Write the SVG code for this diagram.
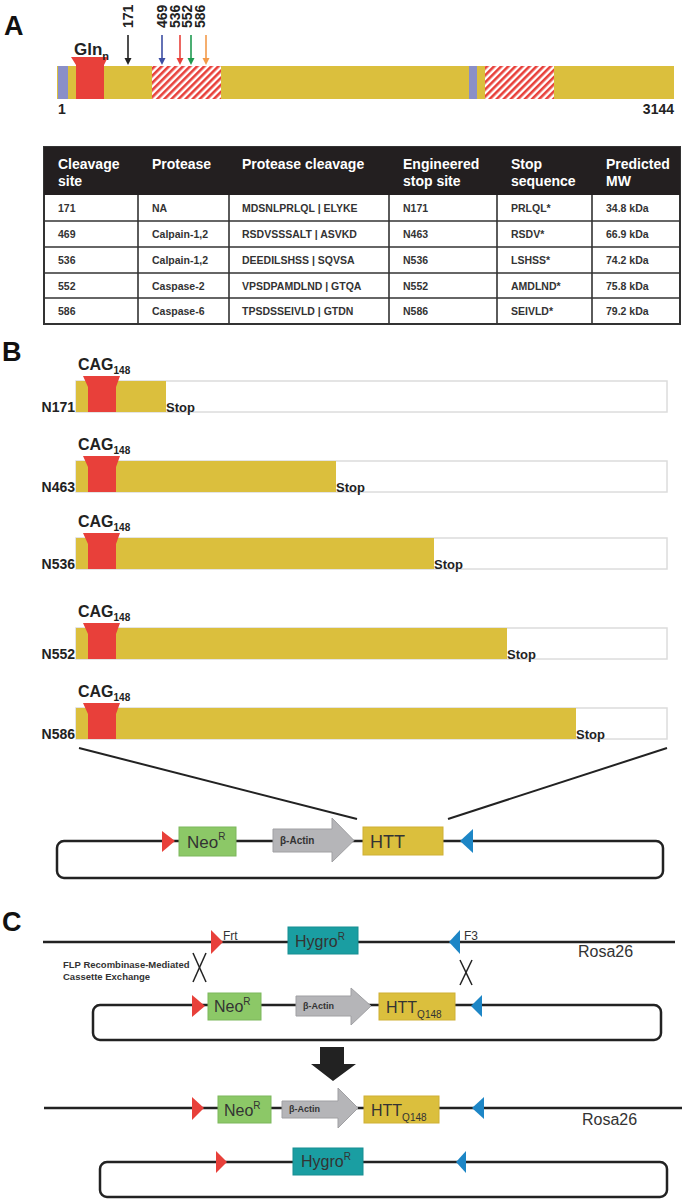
<svg xmlns="http://www.w3.org/2000/svg" width="693" height="1199" viewBox="0 0 693 1199">
<defs>
<style>
text{font-family:"Liberation Sans",Arial,sans-serif;}
.pl{font-size:27px;font-weight:bold;fill:#111;}
.hd{font-size:14px;font-weight:bold;fill:#fff;}
.td{font-size:10.5px;font-weight:bold;fill:#333;}
.yel{fill:#dbbf3d;}
.red{fill:#e8403a;}
.cag{font-size:16px;font-weight:bold;fill:#222;}
.sub{font-size:10px;font-weight:bold;fill:#222;}
.nl{font-size:14px;font-weight:bold;fill:#222;}
.stop{font-size:13px;font-weight:bold;fill:#222;}
.box{fill:none;stroke:#dcdcdc;stroke-width:1.5;}
.bb{fill:none;stroke:#222;stroke-width:2.5;}
.ln{stroke:#222;stroke-width:2.5;fill:none;}
.neo{fill:#8cc867;stroke:#7db75c;stroke-width:1;}
.htt{fill:#dbbf3d;stroke:#cfb035;stroke-width:1;}
.hyg{fill:#1a9ea2;stroke:#178e92;stroke-width:1;}
.act{fill:#b5b5b8;stroke:#a0a0a3;stroke-width:1;}
.lt{font-size:17px;fill:#333;}
.sup{font-size:10px;fill:#333;}
.ba{font-size:10px;font-weight:bold;fill:#333;}
.tr{fill:#e8403a;}
.tb{fill:#1d86c6;}
.sm{font-size:12px;fill:#333;}
.rosa{font-size:16px;fill:#333;}
.flp{font-size:9.5px;font-weight:bold;fill:#333;}
.num{font-size:14px;font-weight:bold;fill:#222;}
</style>
<pattern id="hatch" width="5" height="5" patternUnits="userSpaceOnUse" patternTransform="rotate(45)">
<rect width="5" height="5" fill="#fff"/>
<rect width="2.6" height="5" fill="#e8403a"/>
</pattern>
</defs>
<rect width="693" height="1199" fill="#fff"/>

<!-- Panel A -->
<g id="panelA">
<text class="pl" x="4" y="35">A</text>
<g id="htt-protein">
<rect class="yel" x="57" y="66" width="617" height="33"/>
<rect x="58" y="66" width="10" height="33" fill="#8a8fc8"/>
<rect x="469" y="66" width="8" height="33" fill="#8a8fc8"/>
<rect x="152" y="66" width="69" height="33" fill="url(#hatch)"/>
<rect x="485" y="66" width="69" height="33" fill="url(#hatch)"/>
<polygon class="red" points="71,57 108,57 104,65 104,99 76,99 76,65"/>
<text x="74" y="55" style="font-size:17px;font-weight:bold;fill:#222">Gln<tspan dy="5" style="font-size:11px">n</tspan></text>
<text class="num" x="58" y="114">1</text>
<text class="num" x="674" y="114" text-anchor="end">3144</text>
</g>
<g id="site-labels">
<text class="num" transform="translate(133,28) rotate(-90)">171</text>
<text class="num" transform="translate(167,28) rotate(-90)">469</text>
<text class="num" transform="translate(180,28) rotate(-90)">536</text>
<text class="num" transform="translate(192,28) rotate(-90)">552</text>
<text class="num" transform="translate(205,28) rotate(-90)">586</text>
</g>
</g>

<g id="connectors">
<g id="site-arrows" stroke-width="1.6">
<line x1="128" y1="35" x2="128" y2="59" stroke="#222"/><polygon points="124.5,58 131.5,58 128,65" fill="#222"/>
<line x1="162" y1="35" x2="162" y2="59" stroke="#3d4ea3"/><polygon points="158.5,58 165.5,58 162,65" fill="#3d4ea3"/>
<line x1="180" y1="35" x2="180" y2="59" stroke="#e8403a"/><polygon points="176.5,58 183.5,58 180,65" fill="#e8403a"/>
<line x1="191" y1="35" x2="191" y2="59" stroke="#1f9a50"/><polygon points="187.5,58 194.5,58 191,65" fill="#1f9a50"/>
<line x1="206" y1="35" x2="206" y2="59" stroke="#f39a4a"/><polygon points="202.5,58 209.5,58 206,65" fill="#f39a4a"/>
</g>
<line x1="79" y1="748" x2="357" y2="819" stroke="#222" stroke-width="2"/>
<line x1="667" y1="748" x2="448" y2="819" stroke="#222" stroke-width="2"/>
<g id="crossovers" stroke="#222" stroke-width="1.5">
<line x1="193" y1="953" x2="206" y2="982"/><line x1="206" y1="953" x2="193" y2="982"/>
<line x1="460" y1="960" x2="472" y2="985"/><line x1="472" y1="960" x2="460" y2="985"/>
</g>
<polygon id="down-arrow" points="320,1047 344,1047 344,1064 356,1064 333,1081 311,1064 320,1064" fill="#222"/>
</g>

<!-- Table -->
<g id="table">
<rect x="44" y="147" width="636" height="177" fill="#fff" stroke="#333" stroke-width="2"/>
<rect x="44" y="147" width="636" height="48" fill="#231f20"/>
<g stroke="#333" stroke-width="1.6">
<line x1="44" y1="221" x2="680" y2="221"/>
<line x1="44" y1="247" x2="680" y2="247"/>
<line x1="44" y1="273" x2="680" y2="273"/>
<line x1="44" y1="298" x2="680" y2="298"/>
<line x1="138" y1="195" x2="138" y2="324"/>
<line x1="229" y1="195" x2="229" y2="324"/>
<line x1="389" y1="195" x2="389" y2="324"/>
<line x1="497" y1="195" x2="497" y2="324"/>
<line x1="592" y1="195" x2="592" y2="324"/>
</g>
<text class="hd" x="58" y="169">Cleavage</text><text class="hd" x="58" y="186">site</text>
<text class="hd" x="152" y="169">Protease</text>
<text class="hd" x="242" y="169">Protease cleavage</text>
<text class="hd" x="403" y="169">Engineered</text><text class="hd" x="403" y="186">stop site</text>
<text class="hd" x="511" y="169">Stop</text><text class="hd" x="511" y="186">sequence</text>
<text class="hd" x="606" y="169">Predicted</text><text class="hd" x="606" y="186">MW</text>
<g>
<text class="td" x="58" y="212">171</text><text class="td" x="152" y="212">NA</text><text class="td" x="242" y="212">MDSNLPRLQL | ELYKE</text><text class="td" x="403" y="212">N171</text><text class="td" x="511" y="212">PRLQL*</text><text class="td" x="606" y="212">34.8 kDa</text>
<text class="td" x="58" y="238">469</text><text class="td" x="152" y="238">Calpain-1,2</text><text class="td" x="242" y="238">RSDVSSSALT | ASVKD</text><text class="td" x="403" y="238">N463</text><text class="td" x="511" y="238">RSDV*</text><text class="td" x="606" y="238">66.9 kDa</text>
<text class="td" x="58" y="264">536</text><text class="td" x="152" y="264">Calpain-1,2</text><text class="td" x="242" y="264">DEEDILSHSS | SQVSA</text><text class="td" x="403" y="264">N536</text><text class="td" x="511" y="264">LSHSS*</text><text class="td" x="606" y="264">74.2 kDa</text>
<text class="td" x="58" y="289.5">552</text><text class="td" x="152" y="289.5">Caspase-2</text><text class="td" x="242" y="289.5">VPSDPAMDLND | GTQA</text><text class="td" x="403" y="289.5">N552</text><text class="td" x="511" y="289.5">AMDLND*</text><text class="td" x="606" y="289.5">75.8 kDa</text>
<text class="td" x="58" y="315">586</text><text class="td" x="152" y="315">Caspase-6</text><text class="td" x="242" y="315">TPSDSSEIVLD | GTDN</text><text class="td" x="403" y="315">N586</text><text class="td" x="511" y="315">SEIVLD*</text><text class="td" x="606" y="315">79.2 kDa</text>
</g>
</g>

<!-- Panel B -->
<text class="pl" x="2" y="361">B</text>
<g id="N171">
<rect class="box" x="76" y="381" width="591" height="31"/>
<rect class="yel" x="76" y="381" width="90" height="31"/>
<polygon class="red" points="83,376 120,376 116,387 116,412 88,412 88,387"/>
<text class="cag" x="78" y="370">CAG<tspan class="sub" dy="4">148</tspan></text>
<text class="nl" x="75" y="412" text-anchor="end">N171</text>
<text class="stop" x="166" y="412">Stop</text>
</g>
<g id="N463">
<rect class="box" x="76" y="461" width="591" height="31"/>
<rect class="yel" x="76" y="461" width="260" height="31"/>
<polygon class="red" points="83,456 120,456 116,467 116,492 88,492 88,467"/>
<text class="cag" x="78" y="450">CAG<tspan class="sub" dy="4">148</tspan></text>
<text class="nl" x="75" y="492" text-anchor="end">N463</text>
<text class="stop" x="336" y="492">Stop</text>
</g>
<g id="N536">
<rect class="box" x="76" y="538" width="591" height="31"/>
<rect class="yel" x="76" y="538" width="358" height="31"/>
<polygon class="red" points="83,533 120,533 116,544 116,569 88,569 88,544"/>
<text class="cag" x="78" y="527">CAG<tspan class="sub" dy="4">148</tspan></text>
<text class="nl" x="75" y="569" text-anchor="end">N536</text>
<text class="stop" x="434" y="569">Stop</text>
</g>
<g id="N552">
<rect class="box" x="76" y="628" width="591" height="31"/>
<rect class="yel" x="76" y="628" width="431" height="31"/>
<polygon class="red" points="83,623 120,623 116,634 116,659 88,659 88,634"/>
<text class="cag" x="78" y="617">CAG<tspan class="sub" dy="4">148</tspan></text>
<text class="nl" x="75" y="659" text-anchor="end">N552</text>
<text class="stop" x="507" y="659">Stop</text>
</g>
<g id="N586">
<rect class="box" x="76" y="708" width="591" height="31"/>
<rect class="yel" x="76" y="708" width="500" height="31"/>
<polygon class="red" points="83,703 120,703 116,714 116,739 88,739 88,714"/>
<text class="cag" x="78" y="697">CAG<tspan class="sub" dy="4">148</tspan></text>
<text class="nl" x="75" y="739" text-anchor="end">N586</text>
<text class="stop" x="576" y="739">Stop</text>
</g>

<g id="cassetteB">
<rect class="bb" x="57" y="841" width="606" height="37" rx="7"/>
<polygon class="tr" points="162,831 175,841 162,852"/>
<rect class="neo" x="179" y="827" width="57" height="29"/>
<text class="lt" x="187" y="848">Neo<tspan class="sup" dy="-8">R</tspan></text>
<path class="act" d="M273 829 H332 V818 L354 840.5 L332 862 V852 H273 Z"/>
<text class="ba" x="280" y="844">β-Actin</text>
<rect class="htt" x="363" y="827" width="80" height="28"/>
<text class="lt" x="370" y="848" style="font-size:18px">HTT</text>
<polygon class="tb" points="473,829 460,841 473,853"/>
</g>

<!-- Panel C -->
<text class="pl" x="2" y="931">C</text>
<g id="rosa26-top">
<line class="ln" x1="43" y1="942" x2="675" y2="942"/>
<polygon class="tr" points="211,930 223,942 211,954"/>
<text class="sm" x="223" y="940">Frt</text>
<rect class="hyg" x="288" y="927" width="70" height="27"/>
<text class="rosa" x="295" y="947">Hygro<tspan class="sup" dy="-7">R</tspan></text>
<polygon class="tb" points="460,930 449,942 460,954"/>
<text class="sm" x="464" y="940">F3</text>
<text class="rosa" x="578" y="957">Rosa26</text>
</g>
<g id="flp-label">
<text class="flp" x="63" y="968">FLP Recombinase-Mediated</text>
<text class="flp" x="63" y="980">Cassette Exchange</text>
</g>
<g id="donor-vector">
<rect class="bb" x="93" y="1005" width="568" height="35" rx="7"/>
<polygon class="tr" points="192,995 205,1006 192,1017"/>
<rect class="neo" x="208" y="993" width="53" height="27"/>
<text class="lt" x="214" y="1012" style="font-size:16px">Neo<tspan class="sup" dy="-7">R</tspan></text>
<path class="act" d="M296 996 H351 V988 L371 1006 L351 1025 V1016 H296 Z"/>
<text class="ba" x="303" y="1009" style="font-size:9px">β-Actin</text>
<rect class="htt" x="379" y="993" width="76" height="27"/>
<text class="lt" x="386" y="1013" style="font-size:16px">HTT<tspan class="sup" dy="5">Q148</tspan></text>
<polygon class="tb" points="482,995 471,1006 482,1017"/>
</g>
<g id="rosa26-bottom">
<line class="ln" x1="44" y1="1108" x2="682" y2="1108"/>
<polygon class="tr" points="192,1097 204,1108 192,1120"/>
<rect class="neo" x="218" y="1096" width="53" height="27"/>
<text class="lt" x="224" y="1116" style="font-size:16px">Neo<tspan class="sup" dy="-7">R</tspan></text>
<path class="act" d="M282 1101 H338 V1088 L358 1108 L338 1128 V1118 H282 Z"/>
<text class="ba" x="289" y="1112" style="font-size:9px">β-Actin</text>
<rect class="htt" x="364" y="1096" width="75" height="27"/>
<text class="lt" x="371" y="1116" style="font-size:16px">HTT<tspan class="sup" dy="5">Q148</tspan></text>
<polygon class="tb" points="484,1097 472,1108 484,1119"/>
<text class="rosa" x="582" y="1125">Rosa26</text>
</g>
<g id="excised-vector">
<rect class="bb" x="100" y="1162" width="567" height="35" rx="7"/>
<polygon class="tr" points="216,1151 227,1162 216,1173"/>
<rect class="hyg" x="293" y="1148" width="70" height="27"/>
<text class="rosa" x="301" y="1167">Hygro<tspan class="sup" dy="-7">R</tspan></text>
<polygon class="tb" points="466,1151 456,1162 466,1173"/>
</g>
</svg>
